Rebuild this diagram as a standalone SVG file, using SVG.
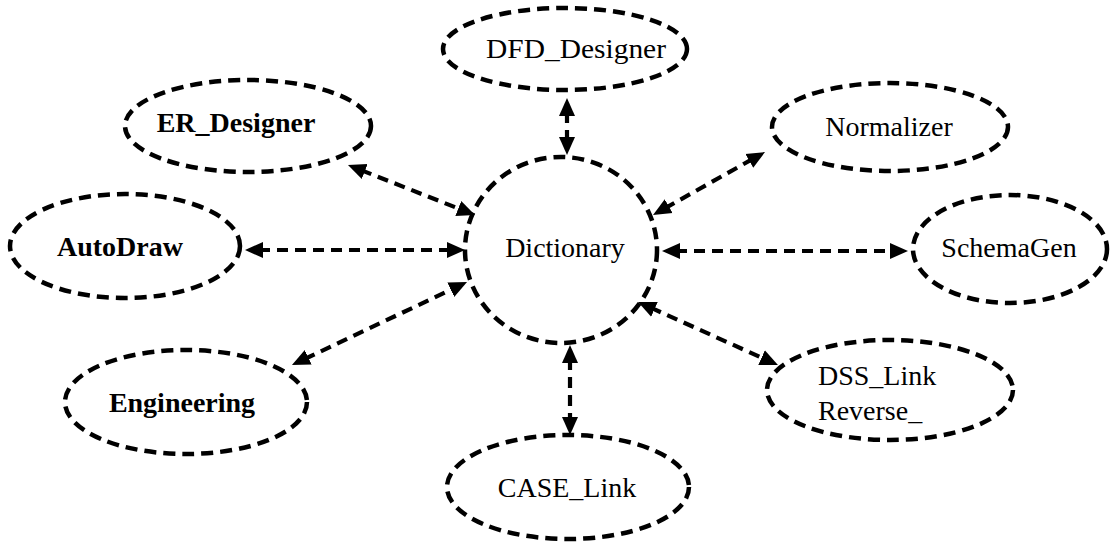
<svg xmlns="http://www.w3.org/2000/svg" width="1118" height="545" viewBox="0 0 1118 545">
<style>
.node{fill:none;stroke:#000;stroke-width:4.5;stroke-dasharray:12 7}
.conn{fill:none;stroke:#000;stroke-width:4.2;stroke-dasharray:11 7;marker-start:url(#ah);marker-end:url(#ah)}
.lbl{font-family:"Liberation Serif","Times New Roman",serif;font-size:28px;fill:#000;text-anchor:middle}
.b{font-weight:bold}
</style>
<defs>
<marker id="ah" markerUnits="userSpaceOnUse" markerWidth="20" markerHeight="18" viewBox="0 -9 20 18" refX="4" refY="0" orient="auto-start-reverse">
<path d="M0,-8 L18,0 L0,8 z" fill="#000"/>
</marker>
</defs>
<rect width="1118" height="545" fill="#fff"/>
<g id="connectors">
<line class="conn" x1="567" y1="112" x2="567" y2="141"/>
<line class="conn" x1="361" y1="170.1" x2="462" y2="209.9"/>
<line class="conn" x1="752.8" y1="158.9" x2="665.2" y2="208.1"/>
<line class="conn" x1="259" y1="250" x2="451" y2="250"/>
<line class="conn" x1="676" y1="251" x2="894" y2="251"/>
<line class="conn" x1="304.6" y1="359" x2="454.4" y2="288"/>
<line class="conn" x1="570" y1="359" x2="570" y2="421"/>
<line class="conn" x1="650.8" y1="307.7" x2="765.2" y2="359.3"/>
</g>
<g id="DFD_Designer">
<ellipse class="node" cx="565" cy="49" rx="122" ry="41"/>
<text class="lbl" x="576" y="58" textLength="180" lengthAdjust="spacingAndGlyphs">DFD_Designer</text>
</g>
<g id="ER_Designer">
<ellipse class="node" cx="248" cy="126" rx="123" ry="46"/>
<text class="lbl b" x="236" y="132">ER_Designer</text>
</g>
<g id="Normalizer">
<ellipse class="node" cx="890" cy="127" rx="118" ry="44"/>
<text class="lbl" x="889" y="136">Normalizer</text>
</g>
<g id="AutoDraw">
<ellipse class="node" cx="125" cy="246" rx="115" ry="52"/>
<text class="lbl b" x="120" y="256">AutoDraw</text>
</g>
<g id="Dictionary">
<ellipse class="node" cx="561" cy="250" rx="96" ry="93"/>
<text class="lbl" x="565" y="257">Dictionary</text>
</g>
<g id="SchemaGen">
<ellipse class="node" cx="1010" cy="249" rx="97" ry="54"/>
<text class="lbl" x="1009" y="257">SchemaGen</text>
</g>
<g id="Engineering">
<ellipse class="node" cx="186" cy="402" rx="121" ry="52"/>
<text class="lbl b" x="182" y="412">Engineering</text>
</g>
<g id="CASE_Link">
<ellipse class="node" cx="568" cy="487" rx="121" ry="52"/>
<text class="lbl" x="567" y="497">CASE_Link</text>
</g>
<g id="DSS_Link">
<ellipse class="node" cx="890" cy="390" rx="123" ry="50"/>
<text class="lbl" x="818" y="385" style="text-anchor:start">DSS_Link</text>
<text class="lbl" x="818" y="420" style="text-anchor:start">Reverse_</text>
</g>
</svg>
